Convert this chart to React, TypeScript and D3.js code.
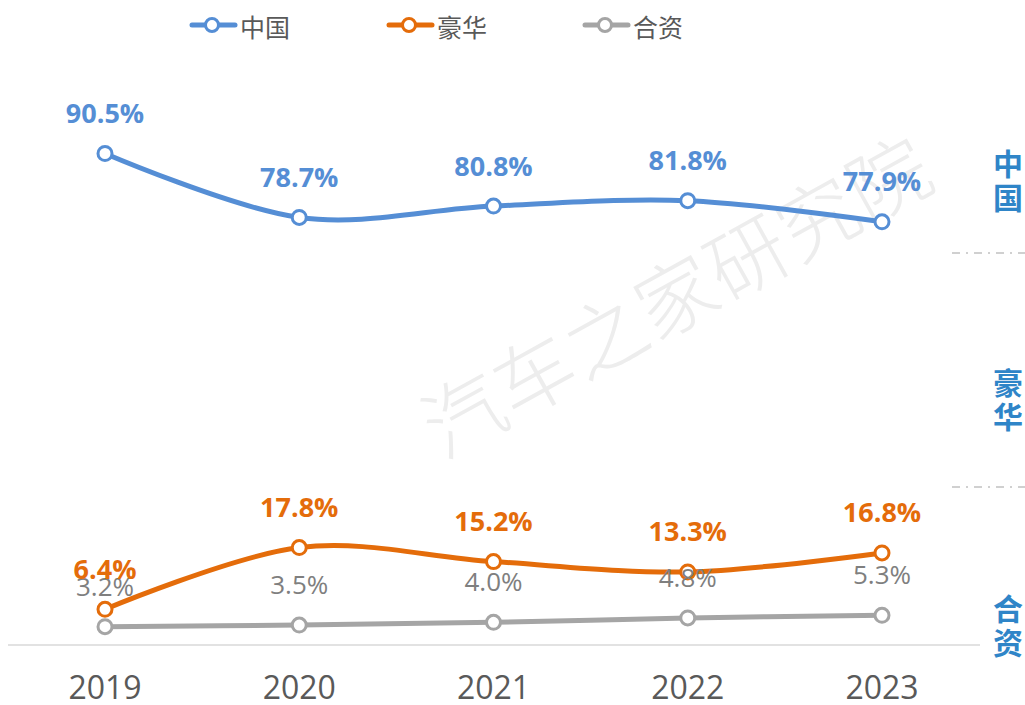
import { useMemo } from "react";
import { scalePoint, scaleLinear, line, curveCatmullRom } from "d3";

// chart data
const years = ["2019", "2020", "2021", "2022", "2023"];
const chinaShare = [90.5, 78.7, 80.8, 81.8, 77.9];
const luxuryShare = [6.4, 17.8, 15.2, 13.3, 16.8];
const jointShare = [3.2, 3.5, 4.0, 4.8, 5.3];
const seriesNames = ["中国", "豪华", "合资"];
const sideLabels = ["中国", "豪华", "合资"];
const watermark = "汽车之家研究院";

const W = 1025;
const H = 705;
const FONT = "'Noto Sans CJK SC', 'Open Sans', sans-serif";

interface Series {
    name: string;
    values: number[];
    color: string;
    labelColor: string;
    bold: boolean;
}

export default function App() {
    const series: Series[] = [
        { name: seriesNames[0], values: chinaShare, color: "#558ED5", labelColor: "#558ED5", bold: true },
        { name: seriesNames[1], values: luxuryShare, color: "#E46C0A", labelColor: "#E46C0A", bold: true },
        { name: seriesNames[2], values: jointShare, color: "#A5A5A5", labelColor: "#7F7F7F", bold: false },
    ];

    const x = useMemo(() => scalePoint<string>().domain(years).range([105, 882]), []);
    const y = useMemo(() => scaleLinear().domain([0, 100]).range([644, 102]), []);

    const path = line<number>()
        .x((_, i) => x(years[i]) as number)
        .y((d) => y(d))
        .curve(curveCatmullRom.alpha(0));

    const legendX = [190, 387, 583];

    return (
        <svg
            width={W}
            height={H}
            style={{ position: "absolute", left: 0, top: 0, background: "#fff" }}
            fontFamily={FONT}
        >
            {/* watermark */}
            <text
                transform="translate(674,292) rotate(-29)"
                textAnchor="middle"
                dominantBaseline="central"
                fontSize={80}
                fontWeight={300}
                fill="#EDEDED"
                letterSpacing={1}
            >
                {watermark}
            </text>

            {/* legend */}
            {series.map((s, i) => (
                <g key={`lg-${s.name}`} transform={`translate(${legendX[i]}, 25)`}>
                    <line x1={2} x2={45} y1={0} y2={0} stroke={s.color} strokeWidth={5} strokeLinecap="round" />
                    <circle cx={22} cy={0} r={6.5} fill="#fff" stroke={s.color} strokeWidth={3} />
                    <text x={50} y={1} dominantBaseline="central" fontSize={25} fill="#595959">
                        {s.name}
                    </text>
                </g>
            ))}

            {/* x axis */}
            <line x1={8} x2={980} y1={645} y2={645} stroke="#D9D9D9" strokeWidth={1.5} />
            {years.map((yr) => (
                <text key={yr} x={x(yr)} y={699} textAnchor="middle" fontSize={32} fill="#595959"
                    fontFamily="'Open Sans', sans-serif">
                    {yr}
                </text>
            ))}

            {/* right side group labels */}
            {sideLabels.map((lab, i) => {
                const cy = [179, 398, 624][i];
                return (
                    <g key={`side-${lab}`}>
                        <text x={1008} y={cy - 17} textAnchor="middle" dominantBaseline="central"
                            fontSize={30} fontWeight={700} fill="#2F85C8">{lab[0]}</text>
                        <text x={1008} y={cy + 17} textAnchor="middle" dominantBaseline="central"
                            fontSize={30} fontWeight={700} fill="#2F85C8">{lab[1]}</text>
                    </g>
                );
            })}
            {[253, 487].map((sy) => (
                <line key={`sep-${sy}`} x1={952} x2={1025} y1={sy} y2={sy} stroke="#D0D0D0"
                    strokeWidth={2} strokeDasharray="8 6 2 6" />
            ))}

            {/* lines */}
            {series.slice().reverse().map((s) => (
                <path key={`ln-${s.name}`} d={path(s.values) ?? ""} fill="none" stroke={s.color}
                    strokeWidth={5} strokeLinejoin="round" />
            ))}
            {series.slice().reverse().map((s) => (
                <g key={`pt-${s.name}`}>
                    {s.values.map((v, i) => (
                        <circle key={i} cx={x(years[i])} cy={y(v)} r={7} fill="#fff" stroke={s.color} strokeWidth={3} />
                    ))}
                </g>
            ))}

            {/* data labels */}
            {series.slice().reverse().map((s) => (
                <g key={`lb-${s.name}`}>
                    {s.values.map((v, i) => (
                        <text key={i} x={x(years[i])} y={y(v) - 41} textAnchor="middle" dominantBaseline="central"
                            fontSize={s.bold ? 27 : 26} fontWeight={s.bold ? 700 : 400} fill={s.labelColor}
                            fontFamily="'Open Sans', sans-serif">
                            {v.toFixed(1)}%
                        </text>
                    ))}
                </g>
            ))}
        </svg>
    );
}
